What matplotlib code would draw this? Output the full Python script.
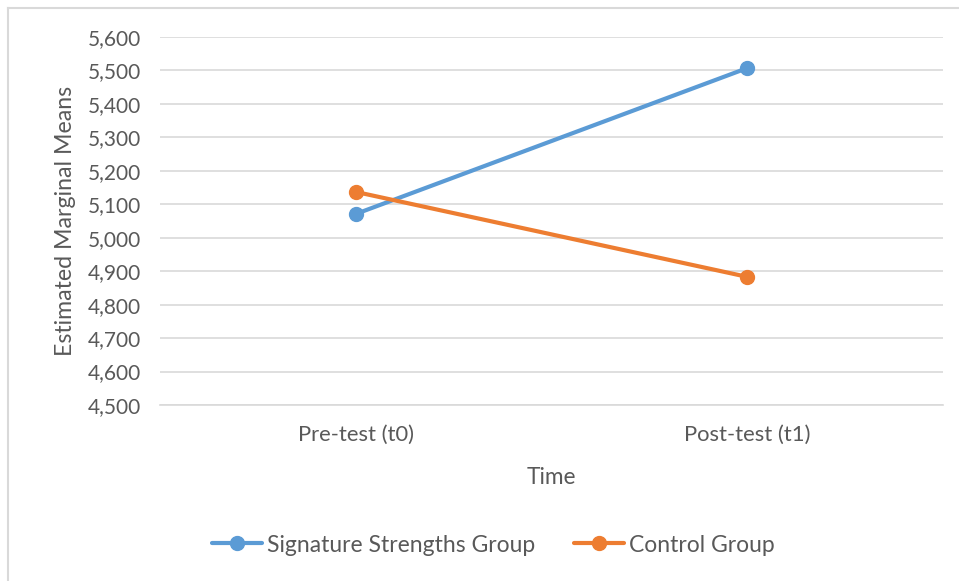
import matplotlib.pyplot as plt
from matplotlib.lines import Line2D
from matplotlib.ticker import FuncFormatter

plt.rcParams['font.family'] = ['Lato', 'DejaVu Sans']

time_points = ['Pre-test (t0)', 'Post-test (t1)']
signature_means = [5071, 5507]
control_means = [5137, 4883]
y_ticks = list(range(4500, 5601, 100))

text_color = '#595959'
grid_color = '#D9D9D9'
blue = '#5B9BD5'
orange = '#ED7D31'

fig = plt.figure(figsize=(9.59, 5.81), dpi=100)
ax = fig.add_axes([160 / 959, 176 / 581, 783 / 959, 368 / 581])

# chart area border (top and left visible, rest cropped)
fig.add_artist(Line2D([8 / 959, 8 / 959], [0, 573 / 581], color=grid_color, lw=1.5))
fig.add_artist(Line2D([8 / 959, 1], [573 / 581, 573 / 581], color=grid_color, lw=1.5))

x = range(len(time_points))
ax.plot(x, signature_means, color=blue, lw=3, marker='o', ms=10,
        label='Signature Strengths Group', solid_capstyle='round')
ax.plot(x, control_means, color=orange, lw=3, marker='o', ms=10,
        label='Control Group', solid_capstyle='round')

ax.set_xlim(-0.5, 1.5)
ax.set_ylim(4500, 5600)
ax.set_yticks(y_ticks)
ax.yaxis.set_major_formatter(FuncFormatter(lambda v, p: f'{int(v):,}'))
ax.set_xticks(list(x))
ax.set_xticklabels(time_points)

ax.grid(True, axis='y', color=grid_color, lw=1.2)
ax.set_axisbelow(True)
for side in ['top', 'right', 'left']:
    ax.spines[side].set_visible(False)
ax.spines['bottom'].set_color(grid_color)
ax.spines['bottom'].set_linewidth(1.2)

ax.tick_params(axis='y', length=0, labelsize=15, colors=text_color, pad=14)
ax.tick_params(axis='x', length=0, labelsize=15.8, colors=text_color, pad=14)

ax.set_xlabel('Time', fontsize=16.3, color=text_color, labelpad=16)
ax.set_ylabel('Estimated Marginal Means', fontsize=16.7, color=text_color, labelpad=8)

leg = fig.legend(loc='center', bbox_to_anchor=(493 / 959, 36 / 581), ncol=2,
                 frameon=False, fontsize=16.5, handlelength=2.2, handletextpad=0.2,
                 columnspacing=1.7)
for t in leg.get_texts():
    t.set_color(text_color)

fig.savefig('out.png', dpi=100)
